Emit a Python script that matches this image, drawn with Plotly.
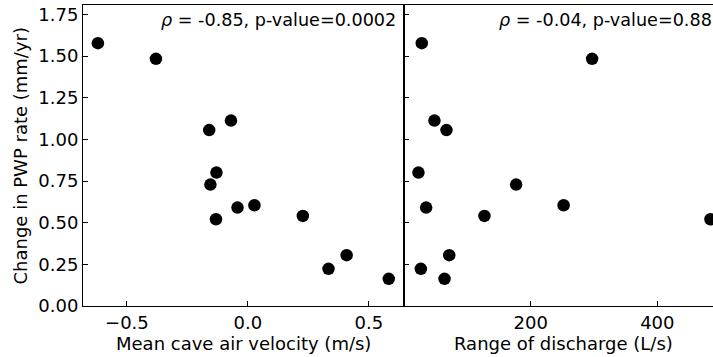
import plotly.graph_objects as go
from plotly.subplots import make_subplots

# Data (same sites in both panels)
pwp_rate_change = [1.578, 1.484, 1.056, 1.113, 0.801, 0.729, 0.591, 0.605, 0.521, 0.541, 0.223, 0.305, 0.163]
air_velocity = [-0.62, -0.38, -0.16, -0.07, -0.13, -0.155, -0.043, 0.027, -0.132, 0.227, 0.333, 0.408, 0.582]
discharge_range = [27.9, 297, 66.9, 47.9, 22.6, 177, 34.8, 252, 484, 126.9, 26.4, 71.3, 63.8]

y_ticks = [0, 0.25, 0.5, 0.75, 1.0, 1.25, 1.5, 1.75]
y_ticktext = ["0.00", "0.25", "0.50", "0.75", "1.00", "1.25", "1.50", "1.75"]
x1_ticks = [-0.5, 0.0, 0.5]
x1_ticktext = ["\u22120.5", "0.0", "0.5"]
x2_ticks = [200, 400]
x2_ticktext = ["200", "400"]

ann_left = "<i>\u03c1</i> = -0.85, p-value=0.0002"
ann_right = "<i>\u03c1</i> = -0.04, p-value=0.88"
xtitle_left = "Mean cave air velocity (m/s)"
xtitle_right = "Range of discharge (L/s)"
ytitle = "Change in PWP rate (mm/yr)"

FONT = "DejaVu Sans"
FS = 18

fig = make_subplots(rows=1, cols=2, shared_yaxes=True, horizontal_spacing=0)

marker = dict(color="black", size=12.5, line=dict(width=0))
fig.add_trace(go.Scatter(x=air_velocity, y=pwp_rate_change, mode="markers", marker=marker,
                         showlegend=False), row=1, col=1)
fig.add_trace(go.Scatter(x=discharge_range, y=pwp_rate_change, mode="markers", marker=marker,
                         showlegend=False), row=1, col=2)

L, R, T, B = 83, 0, 5, 51
W, H = 713, 357
pw, ph = W - L - R, H - T - B
split = (403.5 - L) / pw

axis_common = dict(showline=True, linecolor="black", linewidth=1, ticks="inside", ticklen=5,
                   tickwidth=1, tickcolor="black", showgrid=False, zeroline=False, automargin=False,
                   tickfont=dict(family=FONT, size=FS, color="black"))

fig.update_xaxes(domain=[0, split], range=[-0.6815, 0.643], tickvals=x1_ticks, ticktext=x1_ticktext,
                 mirror=True, row=1, col=1, **axis_common)
fig.update_xaxes(domain=[split, 1], range=[-1, 488], tickvals=x2_ticks, ticktext=x2_ticktext,
                 mirror=True, row=1, col=2, **axis_common)
fig.update_yaxes(range=[0, 1.807], tickvals=y_ticks, ticktext=y_ticktext, mirror=True,
                 row=1, col=1, **axis_common)
fig.update_yaxes(range=[0, 1.807], tickvals=y_ticks, showticklabels=False, mirror=False,
                 row=1, col=2, **axis_common)

tfont = dict(family=FONT, size=FS, color="black")
afont = dict(family=FONT, size=17.6, color="black")
fig.add_annotation(x=0.619, y=1.714, xref="x", yref="y", text=ann_left,
                   showarrow=False, xanchor="right", yanchor="middle", font=afont)
fig.add_annotation(x=147, y=1.714, xref="x2", yref="y", text=ann_right,
                   showarrow=False, xanchor="left", yanchor="middle", font=afont)

# axis titles
fig.add_annotation(x=split / 2, y=(306 - 343) / ph, xref="paper", yref="paper", text=xtitle_left,
                   showarrow=False, xanchor="center", yanchor="middle", font=tfont)
fig.add_annotation(x=(split + (1 + (723.8 - W) / pw)) / 2, y=(306 - 343) / ph, xref="paper", yref="paper",
                   text=xtitle_right, showarrow=False, xanchor="center", yanchor="middle", font=tfont)
fig.add_annotation(x=(20 - L) / pw, y=0.5, xref="paper", yref="paper", text=ytitle, textangle=-90,
                   showarrow=False, xanchor="center", yanchor="middle", font=tfont)

fig.update_layout(width=W, height=H, margin=dict(l=L, r=R, t=T, b=B),
                  plot_bgcolor="white", paper_bgcolor="white",
                  font=dict(family=FONT, size=FS, color="black"))

fig.write_html("out.html", config={"displayModeBar": False},
               post_script="document.body.style.margin='0';document.body.style.overflow='hidden';")
